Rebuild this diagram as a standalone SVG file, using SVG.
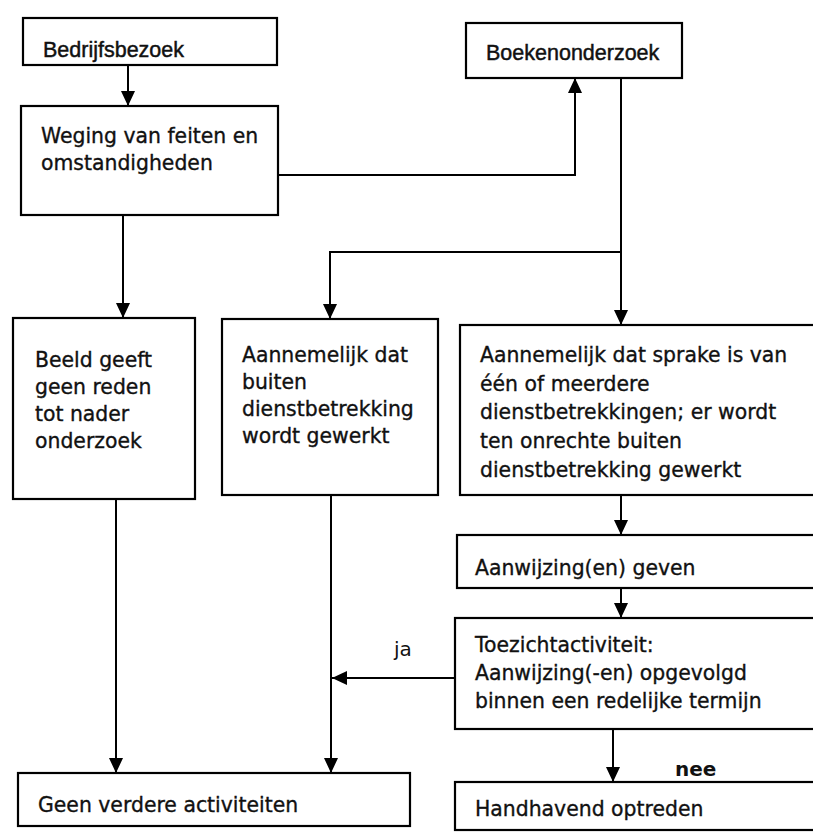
<svg xmlns="http://www.w3.org/2000/svg" width="813" height="833" viewBox="0 0 813 833">
<style>
.box{fill:#fff;stroke:#000;stroke-width:2.2}
.t{font-family:"DejaVu Sans","Verdana",sans-serif;font-size:20.4px;fill:#111;stroke:#111;stroke-width:0.35}
.ta{font-family:"Liberation Sans",Arial,sans-serif;font-size:21.5px;fill:#111;stroke:#111;stroke-width:0.45}
.c{fill:none;stroke:#000;stroke-width:2}
.lbl{font-family:"DejaVu Sans","Verdana",sans-serif;font-size:20px;fill:#111}
</style>
<defs>
<marker id="ah" viewBox="0 0 15 14" refX="15" refY="7" markerWidth="15" markerHeight="14" markerUnits="userSpaceOnUse" orient="auto">
<path d="M0,0 L15,7 L0,14 z" fill="#000"/>
</marker>
</defs>
<rect width="813" height="833" fill="#fff"/>
<g id="connectors">
<path class="c" d="M128,65 L128,106" marker-end="url(#ah)"/>
<path class="c" d="M278,175 L575,175 L575,78" marker-end="url(#ah)"/>
<path class="c" d="M621,78 L621,325" marker-end="url(#ah)"/>
<path class="c" d="M621,252 L330,252 L330,319" marker-end="url(#ah)"/>
<path class="c" d="M123,215 L123,318" marker-end="url(#ah)"/>
<path class="c" d="M116,499 L116,773" marker-end="url(#ah)"/>
<path class="c" d="M331,495 L331,773" marker-end="url(#ah)"/>
<path class="c" d="M621,495 L621,535" marker-end="url(#ah)"/>
<path class="c" d="M621,588 L621,618" marker-end="url(#ah)"/>
<path class="c" d="M455,678 L332,678" marker-end="url(#ah)"/>
<path class="c" d="M613,729 L613,782" marker-end="url(#ah)"/>
<text class="lbl" x="394" y="656">ja</text>
<text class="lbl" x="675" y="776" font-size="17" font-weight="bold">nee</text>
</g>
<g id="n1">
<rect class="box" x="23" y="18" width="254" height="47"/>
<text class="ta" x="43" y="57">Bedrijfsbezoek</text>
</g>
<g id="n2">
<rect class="box" x="466" y="23" width="216" height="55"/>
<text class="ta" x="486" y="60">Boekenonderzoek</text>
</g>
<g id="n3">
<rect class="box" x="21" y="106" width="257" height="109"/>
<text class="t" x="41" y="143">Weging van feiten en</text>
<text class="t" x="41" y="170">omstandigheden</text>
</g>
<g id="n4">
<rect class="box" x="13" y="318" width="182" height="181"/>
<text class="t" x="35" y="367">Beeld geeft</text>
<text class="t" x="35" y="394">geen reden</text>
<text class="t" x="35" y="421">tot nader</text>
<text class="t" x="35" y="448">onderzoek</text>
</g>
<g id="n5">
<rect class="box" x="222" y="319" width="216" height="176"/>
<text class="t" x="242" y="362">Aannemelijk dat</text>
<text class="t" x="242" y="389">buiten</text>
<text class="t" x="242" y="416">dienstbetrekking</text>
<text class="t" x="242" y="443">wordt gewerkt</text>
</g>
<g id="n6">
<rect class="box" x="460" y="325" width="370" height="170"/>
<text class="t" x="480" y="362">Aannemelijk dat sprake is van</text>
<text class="t" x="480" y="391">één of meerdere</text>
<text class="t" x="480" y="419">dienstbetrekkingen; er wordt</text>
<text class="t" x="480" y="448">ten onrechte buiten</text>
<text class="t" x="480" y="477">dienstbetrekking gewerkt</text>
</g>
<g id="n7">
<rect class="box" x="457" y="535" width="370" height="53"/>
<text class="t" x="475" y="575">Aanwijzing(en) geven</text>
</g>
<g id="n8">
<rect class="box" x="455" y="618" width="370" height="111"/>
<text class="t" x="475" y="652">Toezichtactiviteit:</text>
<text class="t" x="475" y="680">Aanwijzing(-en) opgevolgd</text>
<text class="t" x="475" y="708">binnen een redelijke termijn</text>
</g>
<g id="n9">
<rect class="box" x="455" y="782" width="370" height="48"/>
<text class="t" x="475" y="816">Handhavend optreden</text>
</g>
<g id="n10">
<rect class="box" x="18" y="773" width="392" height="53"/>
<text class="t" x="38" y="812">Geen verdere activiteiten</text>
</g>
</svg>
